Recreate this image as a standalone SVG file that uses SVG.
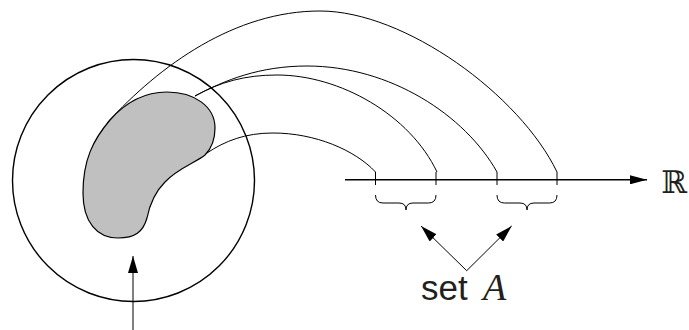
<svg xmlns="http://www.w3.org/2000/svg" width="689" height="330" viewBox="0 0 689 330">
<defs>
<style>
.ln{fill:none;stroke:#000;stroke-width:1}
.thick{fill:none;stroke:#000;stroke-width:1.4}
.txt{font-family:"Liberation Sans",Arial,sans-serif;fill:#231f20}
</style>
<marker id="ah" markerWidth="17" markerHeight="10" refX="17" refY="5" orient="auto" markerUnits="userSpaceOnUse"><path d="M0,0 L17,5 L0,10 Z" fill="#000"/></marker>
<marker id="ah2" markerWidth="17" markerHeight="9" refX="17" refY="4.5" orient="auto" markerUnits="userSpaceOnUse"><path d="M0,0 L17,4.5 L0,9 Z" fill="#000"/></marker>
</defs>
<rect width="689" height="330" fill="#fff"/>
<g id="domain">
<circle cx="133.5" cy="180.5" r="121" class="thick"/>
</g>
<g id="blob">
<path d="M167,92 C195,92 215,107 215,128 C215,140 211,149 205,155 C195,163 178,168 165,182 C155,192 150,203 147,218 C143,232 135,238 118,238 C97,238 83,222 83,193 C83,160 93,140 110,120 C125,103 143,92 167,92 Z" fill="#c0c0c0" stroke="#000" stroke-width="1.2"/>
</g>
<g id="connectors">
<path class="ln" d="M107,123 C160,65 235,11 320,11 C405,11 520,95 557,172"/>
<path class="ln" d="M195,96 C225,80 260,66 307,66 C390,66 465,115 497,172"/>
<path class="ln" d="M195,96 C220,82 245,75 277,75 C340,75 410,115 437,172"/>
<path class="ln" d="M207,153 C225,141 245,133 273,133 C315,133 355,150 375.5,172"/>
<line x1="345" y1="179.8" x2="647" y2="179.8" class="thick" marker-end="url(#ah2)"/>
<line x1="133" y1="330" x2="133" y2="256" class="ln" marker-end="url(#ah)"/>
<line x1="466.7" y1="270.7" x2="421" y2="226" class="ln" marker-end="url(#ah)"/>
<line x1="466.7" y1="270.7" x2="511.7" y2="226" class="ln" marker-end="url(#ah)"/>
</g>
<g id="ticks">
<line x1="375.5" y1="172" x2="375.5" y2="185" class="ln"/>
<line x1="436" y1="172" x2="436" y2="185" class="ln"/>
<line x1="497" y1="172" x2="497" y2="185" class="ln"/>
<line x1="557" y1="172" x2="557" y2="185" class="ln"/>
</g>
<g id="braces">
<path class="ln" d="M375.5,195 Q375.5,203 383,203 L399,203 Q406,203 406,210 Q406,203 413,203 L428.5,203 Q436,203 436,195"/>
<path class="ln" d="M497,195 Q497,203 504.5,203 L520,203 Q527,203 527,210 Q527,203 534,203 L549.5,203 Q557,203 557,195"/>
</g>
<g id="labels">
<text x="687" y="193" text-anchor="end" font-family="DejaVu Serif,serif" font-size="31" fill="#231f20">ℝ</text>
<text x="421" y="300" class="txt" font-size="35">set</text>
<text x="483" y="300" font-family="Liberation Serif,serif" font-style="italic" font-size="38" fill="#231f20">A</text>
</g>
</svg>
